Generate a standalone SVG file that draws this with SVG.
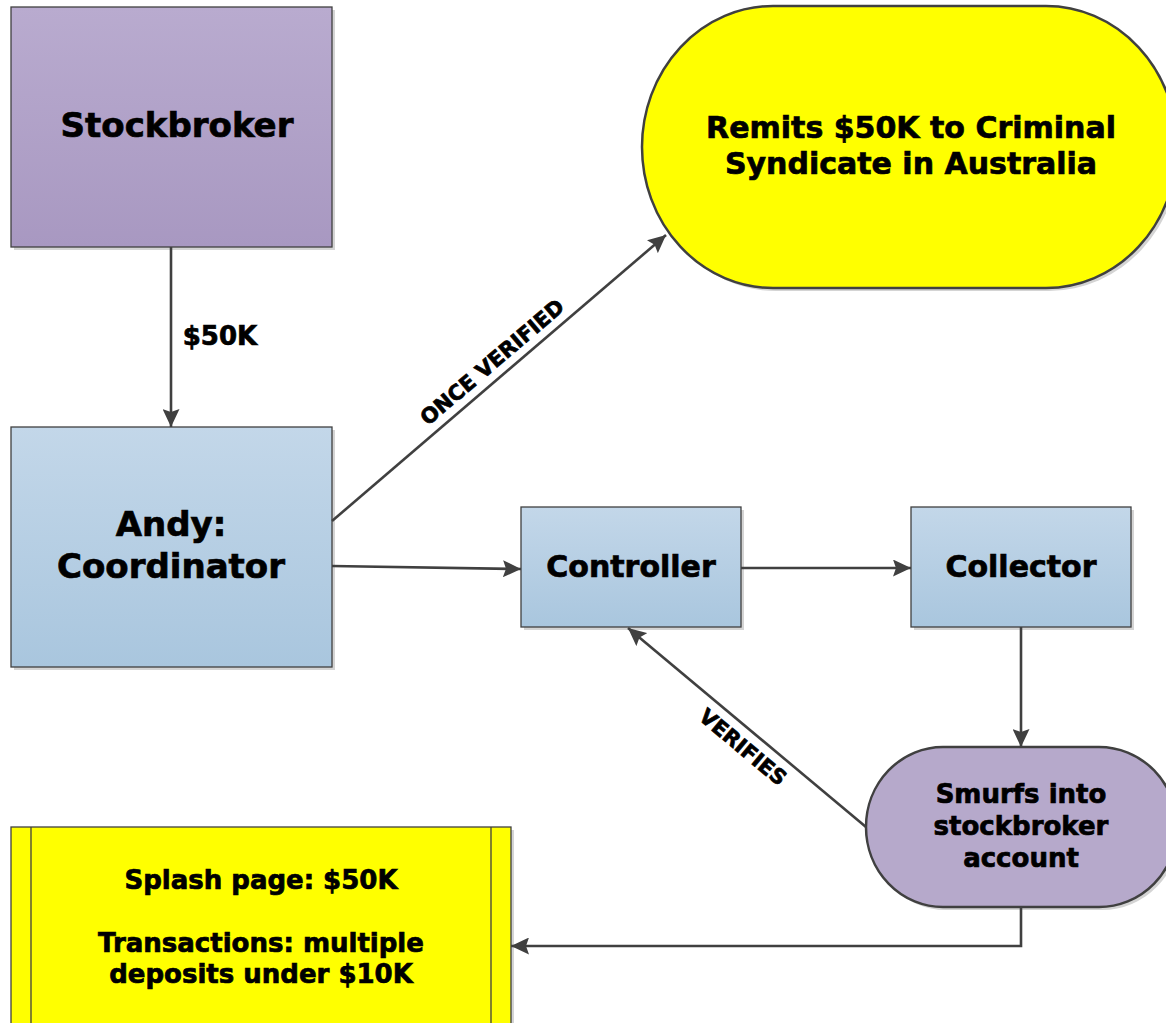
<svg xmlns="http://www.w3.org/2000/svg" width="1166" height="1023" viewBox="0 0 1166 1023">
<style>
.lbl{font-family:"DejaVu Sans","Liberation Sans",sans-serif;font-weight:bold;fill:#000;stroke:#000;stroke-width:0.7;text-anchor:middle}
.box{stroke:#404040;stroke-width:1.3}
.term{stroke:#404040;stroke-width:2.5}
.shadow{fill:#d4d4d4}
.conn{fill:none;stroke:#404040;stroke-width:2.6}
</style>
<defs>
<linearGradient id="gPurple" x1="0" y1="0" x2="0" y2="1"><stop offset="0" stop-color="#b9abcf"/><stop offset="1" stop-color="#a898c1"/></linearGradient>
<linearGradient id="gBlue" x1="0" y1="0" x2="0" y2="1"><stop offset="0" stop-color="#c3d7e9"/><stop offset="1" stop-color="#a9c6de"/></linearGradient>
<marker id="arr" markerUnits="userSpaceOnUse" markerWidth="19" markerHeight="17" refX="18" refY="8.5" orient="auto"><path d="M0,0 L18,8.5 L0,17 L3,8.5 Z" fill="#404040"/></marker>
</defs>
<rect width="1166" height="1023" fill="#fff"/>
<g id="stockbroker">
<rect class="shadow" x="14" y="10" width="321" height="240"/>
<rect class="box" x="11" y="7" width="321" height="240" fill="url(#gPurple)"/>
<text class="lbl" x="177" y="137" font-size="34">Stockbroker</text>
</g>
<g id="remits">
<path class="shadow" d="M776,9 L1049,9 A131,141 0 0 1 1049,291 L776,291 A131,141 0 0 1 776,9 Z"/>
<path class="term" d="M773,6 L1046,6 A131,141 0 0 1 1046,288 L773,288 A131,141 0 0 1 773,6 Z" fill="#ffff00"/>
<text class="lbl" x="911" y="138" font-size="30">Remits $50K to Criminal</text>
<text class="lbl" x="911" y="174" font-size="30">Syndicate in Australia</text>
</g>
<g id="andy">
<rect class="shadow" x="14" y="430" width="321" height="240"/>
<rect class="box" x="11" y="427" width="321" height="240" fill="url(#gBlue)"/>
<text class="lbl" x="171" y="536" font-size="34">Andy:</text>
<text class="lbl" x="171" y="578" font-size="34">Coordinator</text>
</g>
<g id="controller">
<rect class="shadow" x="524" y="510" width="220" height="120"/>
<rect class="box" x="521" y="507" width="220" height="120" fill="url(#gBlue)"/>
<text class="lbl" x="631" y="577" font-size="30">Controller</text>
</g>
<g id="collector">
<rect class="shadow" x="914" y="510" width="220" height="120"/>
<rect class="box" x="911" y="507" width="220" height="120" fill="url(#gBlue)"/>
<text class="lbl" x="1021" y="577" font-size="30">Collector</text>
</g>
<g id="smurfs">
<path class="shadow" d="M946,750 L1102,750 A78,80 0 0 1 1102,910 L946,910 A77,80 0 0 1 946,750 Z"/>
<path class="term" d="M943,747 L1099,747 A78,80 0 0 1 1099,907 L943,907 A77,80 0 0 1 943,747 Z" fill="#b6a9cb"/>
<text class="lbl" x="1021" y="803" font-size="26">Smurfs into</text>
<text class="lbl" x="1021" y="835" font-size="26">stockbroker</text>
<text class="lbl" x="1021" y="867" font-size="26">account</text>
</g>
<g id="splash">
<rect class="shadow" x="14" y="830" width="500" height="240"/>
<rect class="box" x="11" y="827" width="500" height="240" fill="#ffff00"/>
<line class="box" x1="31" y1="827" x2="31" y2="1067"/>
<line class="box" x1="491" y1="827" x2="491" y2="1067"/>
<text class="lbl" x="261" y="889" font-size="26">Splash page: $50K</text>
<text class="lbl" x="261" y="952" font-size="26">Transactions: multiple</text>
<text class="lbl" x="261" y="983" font-size="26">deposits under $10K</text>
</g>
<g id="connectors">
<line class="conn" x1="171" y1="247" x2="171" y2="427" marker-end="url(#arr)"/>
<text class="lbl" x="220" y="345" font-size="26">$50K</text>
<line class="conn" x1="332" y1="521" x2="666" y2="235" marker-end="url(#arr)"/>
<text class="lbl" font-size="21" transform="translate(492,362) rotate(-40.4)" x="0" y="7.5">ONCE VERIFIED</text>
<line class="conn" x1="332" y1="566" x2="521" y2="569" marker-end="url(#arr)"/>
<line class="conn" x1="741" y1="568" x2="911" y2="568" marker-end="url(#arr)"/>
<line class="conn" x1="1021" y1="627" x2="1021" y2="747" marker-end="url(#arr)"/>
<line class="conn" x1="866" y1="827" x2="628" y2="628" marker-end="url(#arr)"/>
<text class="lbl" font-size="21" transform="translate(743,747) rotate(39.8)" x="0" y="7.5">VERIFIES</text>
<polyline class="conn" points="1021,907 1021,946 511,946" marker-end="url(#arr)"/>
</g>
</svg>
